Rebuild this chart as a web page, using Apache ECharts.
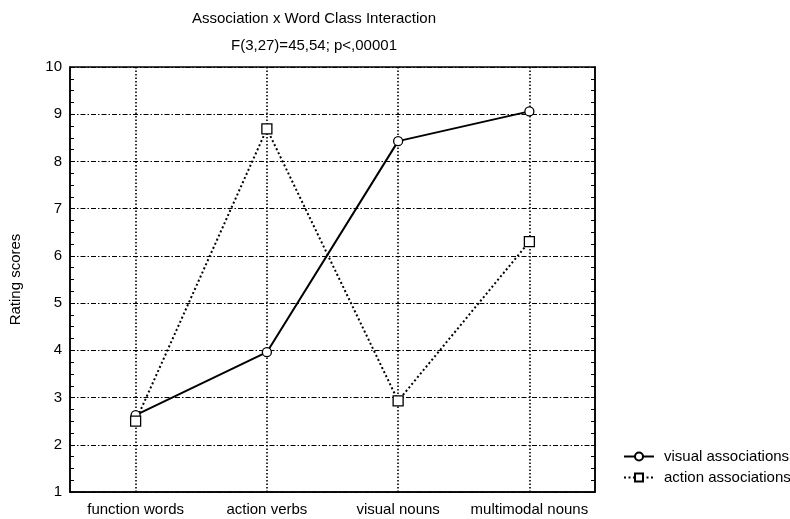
<!DOCTYPE html>
<html><head><meta charset="utf-8">
<script src="https://cdn.jsdelivr.net/npm/echarts@6/dist/echarts.min.js"></script>
<style>html,body{margin:0;padding:0;background:#fff}#c{width:790px;height:519px}</style>
</head><body><div id="c"></div>
<script>
const categories = ['function words', 'action verbs', 'visual nouns', 'multimodal nouns'];
const visualAssociations = [2.63, 3.96, 8.43, 9.06];
const actionAssociations = [2.5, 8.69, 2.93, 6.3];
const yTicks = [1, 2, 3, 4, 5, 6, 7, 8, 9, 10];
const titleText = 'Association x Word Class Interaction';
const subText = 'F(3,27)=45,54; p<,00001';

const font = 'Liberation Sans, Arial, sans-serif';
const fs = 15;
const chart = echarts.init(document.getElementById('c'), null, {renderer: 'canvas'});
chart.setOption({
  animation: false,
  backgroundColor: '#fff',
  textStyle: {fontFamily: font, color: '#000'},
  title: [
    {text: titleText, left: 309, top: 6, textAlign: 'center',
     textStyle: {fontSize: fs, fontWeight: 'normal', color: '#000', fontFamily: font}},
    {text: subText, left: 309, top: 33, textAlign: 'center',
     textStyle: {fontSize: fs, fontWeight: 'normal', color: '#000', fontFamily: font}}
  ],
  legend: {
    orient: 'vertical', left: 618, top: 444, itemGap: 6, itemWidth: 30, itemHeight: 10,
    textStyle: {fontSize: fs, color: '#000', fontFamily: font, padding: [0, 0, 0, 5]},
    data: ['visual associations', 'action associations']
  },
  grid: {left: 70, right: 195, top: 67, bottom: 27, show: true, borderColor: '#000', borderWidth: 1.5,
         containLabel: false, outerBoundsMode: 'none'},
  xAxis: {
    type: 'category', data: categories, boundaryGap: true,
    axisLine: {show: true, lineStyle: {color: '#000', width: 1.5}},
    axisTick: {show: false},
    axisLabel: {color: '#000', fontSize: fs, fontFamily: font, margin: 10, interval: 0, hideOverlap: false},
    splitLine: {show: false}
  },
  yAxis: [{
    type: 'value', min: yTicks[0], max: yTicks[yTicks.length - 1], interval: 1,
    name: 'Rating scores', nameLocation: 'middle', nameGap: 47, nameRotate: 90,
    nameTextStyle: {color: '#000', fontSize: fs, fontFamily: font},
    axisLine: {show: true, lineStyle: {color: '#000', width: 1.5}},
    axisTick: {show: true, inside: true, length: 4, lineStyle: {color: '#000'}},
    minorTick: {show: true, splitNumber: 4, length: 4, lineStyle: {color: '#000'}},
    axisLabel: {color: '#000', fontSize: fs, fontFamily: font, margin: 8},
    splitLine: {show: true, lineStyle: {color: '#000', width: 1, type: [5, 2, 1.5, 2]}}
  }, {
    type: 'value', min: yTicks[0], max: yTicks[yTicks.length - 1], interval: 1, position: 'right',
    axisLine: {show: true, lineStyle: {color: '#000', width: 1.5}},
    axisTick: {show: true, inside: true, length: 4, lineStyle: {color: '#000'}},
    minorTick: {show: true, splitNumber: 4, length: 4, lineStyle: {color: '#000'}},
    axisLabel: {show: false}, splitLine: {show: false}
  }],
  series: [{
    name: 'visual associations', type: 'line', data: visualAssociations,
    symbol: 'circle', symbolSize: 9,
    lineStyle: {color: '#000', width: 2, type: 'solid'},
    itemStyle: {color: '#fff', borderColor: '#000', borderWidth: 1.3},
    z: 5,
    markLine: {
      silent: true, symbol: 'none', label: {show: false},
      lineStyle: {color: '#000', width: 1.6, type: [1.5, 2]},
      data: categories.map(c => ({xAxis: c}))
    }
  }, {
    name: 'action associations', type: 'line', data: actionAssociations,
    symbol: 'rect', symbolSize: 10,
    lineStyle: {color: '#000', width: 2, type: [2, 2.5]},
    itemStyle: {color: '#fff', borderColor: '#000', borderWidth: 1.3},
    z: 5
  }]
});
</script></body></html>
